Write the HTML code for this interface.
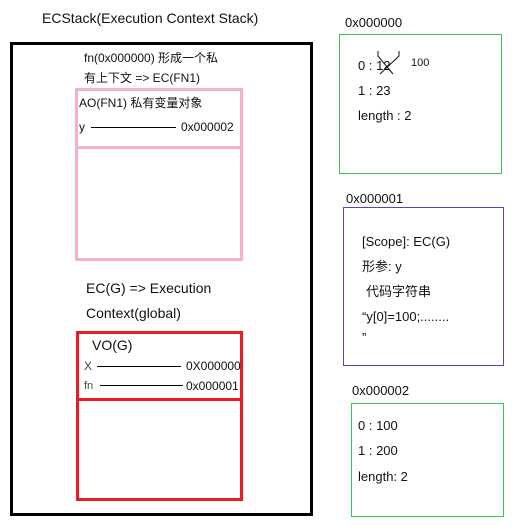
<!DOCTYPE html>
<html><head><meta charset="utf-8"><style>
body{margin:0;width:513px;height:527px;background:#fff;position:relative;overflow:hidden;font-family:"Liberation Sans","Noto Sans CJK SC",sans-serif;color:#111}
.a{position:absolute;white-space:nowrap;line-height:1}
.b{position:absolute;box-sizing:border-box}
.s12{font-size:12px}.s13{font-size:13px}.s14{font-size:14px}
.ln{position:absolute;height:1px;background:#000}
</style></head><body>
<div class="a s14" style="left:42px;top:11px">ECStack(Execution Context Stack)</div>
<div class="b" style="left:10px;top:42px;width:303px;height:474px;border:3px solid #000"></div>

<div class="a s12" style="left:84px;top:52px">fn(0x000000) 形成一个私</div>
<div class="a s12" style="left:84px;top:72px">有上下文 =&gt; EC(FN1)</div>
<div class="b" style="left:75px;top:88px;width:168px;height:173px;border:3px solid #f8afc9"></div>
<div class="b" style="left:75px;top:146px;width:168px;height:3px;background:#f8afc9"></div>
<div class="a s12" style="left:79px;top:97px">AO(FN1) 私有变量对象</div>
<div class="a s12" style="left:79px;top:121px">y</div>
<div class="ln" style="left:91px;top:127px;width:85px"></div>
<div class="a s12" style="left:181px;top:121px">0x000002</div>

<div class="a s14" style="left:86px;top:281px">EC(G) =&gt; Execution</div>
<div class="a s14" style="left:86px;top:306px">Context(global)</div>
<div class="b" style="left:76px;top:331px;width:167px;height:170px;border:3px solid #e81c24"></div>
<div class="b" style="left:76px;top:398px;width:167px;height:3px;background:#e81c24"></div>
<div class="a s14" style="left:92px;top:338px">VO(G)</div>
<div class="a s12" style="left:84px;top:360px;color:#444">X</div>
<div class="ln" style="left:97px;top:366px;width:84px"></div>
<div class="a s12" style="left:186px;top:360px">0X000000</div>
<div class="a" style="left:84px;top:381px;font-size:11px;color:#444">fn</div>
<div class="ln" style="left:100px;top:385px;width:83px"></div>
<div class="a s12" style="left:186px;top:380px">0x000001</div>

<div class="a s13" style="left:345px;top:16px">0x000000</div>
<div class="b" style="left:339px;top:34px;width:163px;height:140px;border:1px solid #2ecc4a"></div>
<div class="a s13" style="left:358px;top:59px">0 : 12</div>
<svg style="position:absolute;left:375px;top:50px" width="30" height="28"><path d="M3 1 L3 6 L18 24 M24 1 L24 6 L5 24" stroke="#111" fill="none" stroke-width="1"/></svg>
<div class="a" style="left:411px;top:58px;font-size:11px">100</div>
<div class="a s13" style="left:358px;top:84px">1 : 23</div>
<div class="a s13" style="left:358px;top:109px">length :  2</div>

<div class="a s13" style="left:346px;top:192px">0x000001</div>
<div class="b" style="left:343px;top:207px;width:161px;height:159px;border:1px solid #4a4ab8"></div>
<div class="a s13" style="left:362px;top:235px">[Scope]: EC(G)</div>
<div class="a s13" style="left:362px;top:260px">形参:  y</div>
<div class="a s13" style="left:366px;top:285px">代码字符串</div>
<div class="a s13" style="left:362px;top:310px">“y[0]=100;........</div>
<div class="a s13" style="left:362px;top:331px">”</div>

<div class="a s13" style="left:352px;top:384px">0x000002</div>
<div class="b" style="left:351px;top:403px;width:153px;height:114px;border:1px solid #2ecc4a"></div>
<div class="a s13" style="left:358px;top:419px">0 : 100</div>
<div class="a s13" style="left:358px;top:444px">1 : 200</div>
<div class="a s13" style="left:358px;top:470px">length: 2</div>
</body></html>
